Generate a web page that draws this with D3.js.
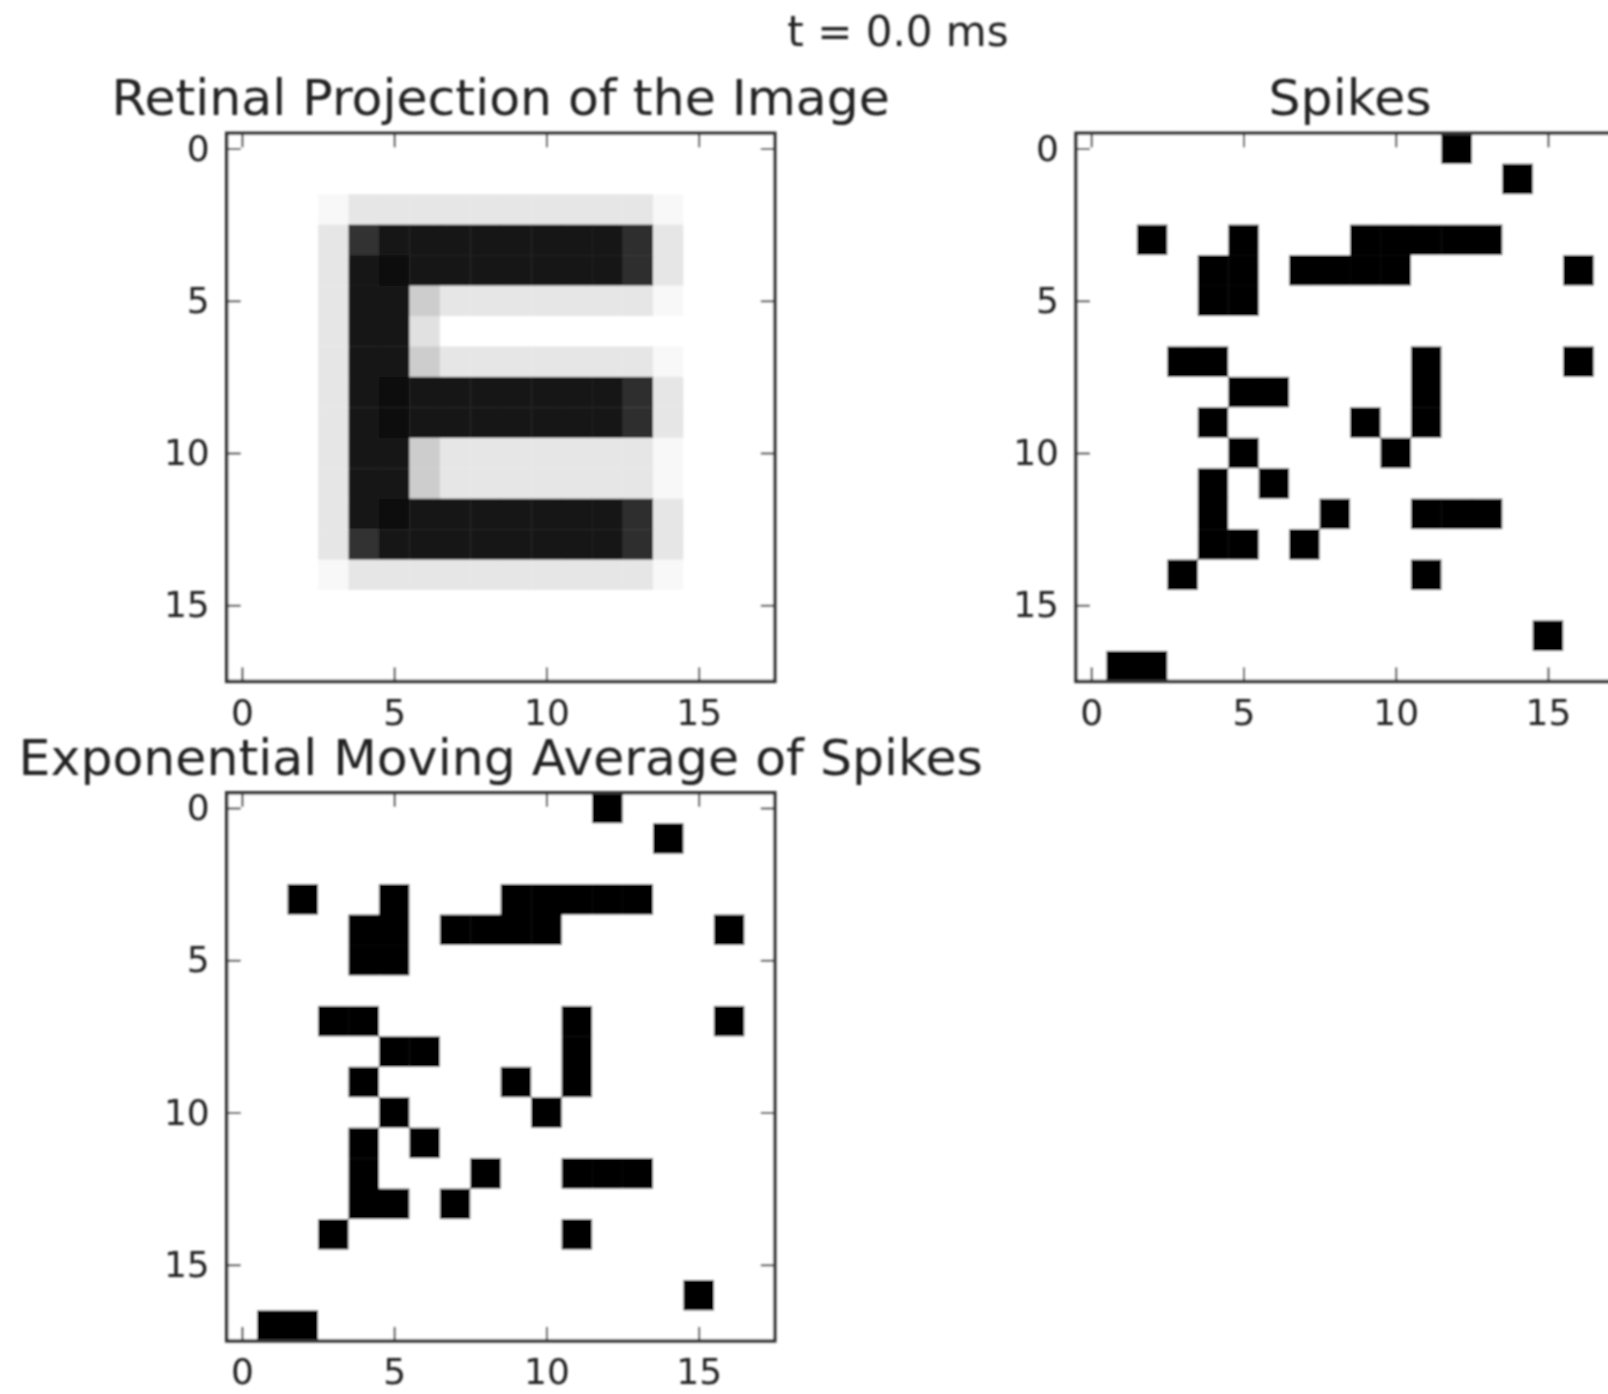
<!DOCTYPE html>
<html>
<head>
<meta charset="utf-8">
<script src="https://cdn.jsdelivr.net/npm/d3@7"></script>
<style>
  body { margin: 0; background: #fff; }
  svg { display: block; }
</style>
</head>
<body>
<div id="chart"></div>
<script>
// figure size
const W = 1608, H = 1394;
const n = 18;
const tickValues = [0, 5, 10, 15];
const suptitle = "t = 0.0 ms";
const titles = ["Retinal Projection of the Image", "Spikes", "Exponential Moving Average of Spikes"];

// darkness of each retinal pixel (0 = white, 1 = black), row by row
const retina = [
  [0,0,0,0,0,0,0,0,0,0,0,0,0,0,0,0,0,0],
  [0,0,0,0,0,0,0,0,0,0,0,0,0,0,0,0,0,0],
  [0,0,0,.03,.1,.1,.1,.1,.1,.1,.1,.1,.1,.1,.03,0,0,0],
  [0,0,0,.1,.82,.92,.92,.92,.92,.92,.92,.92,.92,.84,.1,0,0,0],
  [0,0,0,.1,.92,.97,.92,.92,.92,.92,.92,.92,.92,.84,.1,0,0,0],
  [0,0,0,.1,.92,.92,.2,.1,.1,.1,.1,.1,.1,.1,.03,0,0,0],
  [0,0,0,.1,.92,.92,.12,0,0,0,0,0,0,0,0,0,0,0],
  [0,0,0,.1,.92,.92,.2,.1,.1,.1,.1,.1,.1,.1,.03,0,0,0],
  [0,0,0,.1,.92,.97,.92,.92,.92,.92,.92,.92,.92,.84,.1,0,0,0],
  [0,0,0,.1,.92,.97,.92,.92,.92,.92,.92,.92,.92,.84,.1,0,0,0],
  [0,0,0,.1,.92,.92,.2,.1,.1,.1,.1,.1,.1,.1,.03,0,0,0],
  [0,0,0,.1,.92,.92,.2,.1,.1,.1,.1,.1,.1,.1,.03,0,0,0],
  [0,0,0,.1,.92,.97,.92,.92,.92,.92,.92,.92,.92,.84,.1,0,0,0],
  [0,0,0,.1,.82,.92,.92,.92,.92,.92,.92,.92,.92,.84,.1,0,0,0],
  [0,0,0,.03,.1,.1,.1,.1,.1,.1,.1,.1,.1,.1,.03,0,0,0],
  [0,0,0,0,0,0,0,0,0,0,0,0,0,0,0,0,0,0],
  [0,0,0,0,0,0,0,0,0,0,0,0,0,0,0,0,0,0],
  [0,0,0,0,0,0,0,0,0,0,0,0,0,0,0,0,0,0]
];

// columns that spiked, per row
const spikeCols = [
  [12], [14], [], [2, 5, 9, 10, 11, 12, 13], [4, 5, 7, 8, 9, 10, 16], [4, 5],
  [], [3, 4, 11, 16], [5, 6, 11], [4, 9, 11], [5, 10], [4, 6],
  [4, 8, 11, 12, 13], [4, 5, 7], [3, 11], [], [15], [1, 2]
];
// at t = 0 the moving average is the same picture
const emaCols = [
  [12], [14], [], [2, 5, 9, 10, 11, 12, 13], [4, 5, 7, 8, 9, 10, 16], [4, 5],
  [], [3, 4, 11, 16], [5, 6, 11], [4, 9, 11], [5, 10], [4, 6],
  [4, 8, 11, 12, 13], [4, 5, 7], [3, 11], [], [15], [1, 2]
];

const toGrid = rows => rows.map(cs => d3.range(n).map(c => cs.includes(c) ? 1 : 0));

const cell = 30.45, side = cell * n;
const font = "DejaVu Sans";
const ink = "#222", spine = "#333";

const shade = d3.scaleLinear().domain([0, 1]).range(["#ffffff", "#050505"]);

const svg = d3.select("#chart").append("svg")
  .attr("width", W).attr("height", H);

svg.append("defs").append("filter").attr("id", "soft")
  .attr("x", 0).attr("y", 0).attr("width", 1).attr("height", 1)
  .append("feGaussianBlur").attr("stdDeviation", 0.9);

svg.append("rect").attr("width", W).attr("height", H).attr("fill", "#fff");

const root = svg.append("g").attr("filter", "url(#soft)");

root.append("text")
  .attr("x", 898).attr("y", 46)
  .attr("text-anchor", "middle")
  .attr("font-family", font).attr("font-size", 42).attr("fill", ink)
  .text(suptitle);

const panels = [
  { title: titles[0], x: 226.7, y: 133.3, grid: retina },
  { title: titles[1], x: 1076, y: 133.3, grid: toGrid(spikeCols) },
  { title: titles[2], x: 226.7, y: 792.8, grid: toGrid(emaCols) }
];

panels.forEach(drawPanel);

function styleAxis(sel) {
  sel.select(".domain").remove();
  sel.selectAll("line").attr("stroke", spine).attr("stroke-width", 2);
  sel.selectAll("text")
    .attr("font-family", font).attr("font-size", 36).attr("fill", ink);
}

function drawPanel(p) {
  const g = root.append("g").attr("transform", `translate(${p.x},${p.y})`);

  const x = d3.scaleLinear().domain([-0.5, n - 0.5]).range([0, side]);
  const y = d3.scaleLinear().domain([-0.5, n - 0.5]).range([0, side]);

  const cells = p.grid.flatMap((row, r) => row.map((v, c) => ({ r, c, v })));

  g.selectAll(".cell")
    .data(cells)
    .enter()
    .append("rect")
    .attr("class", "cell")
    .attr("x", d => x(d.c - 0.5))
    .attr("y", d => y(d.r - 0.5))
    .attr("width", x(0.5) - x(-0.5) + 0.4)
    .attr("height", y(0.5) - y(-0.5) + 0.4)
    .attr("fill", d => shade(d.v));

  // ticks point inwards on all four sides
  g.append("g")
    .attr("transform", `translate(0,${side})`)
    .call(d3.axisBottom(x).tickValues(tickValues).tickSize(-14).tickPadding(18))
    .call(styleAxis);

  g.append("g")
    .call(d3.axisLeft(y).tickValues(tickValues).tickSize(-14).tickPadding(17))
    .call(styleAxis);

  g.append("g")
    .call(d3.axisTop(x).tickValues(tickValues).tickSize(-14).tickFormat(""))
    .call(styleAxis);

  g.append("g")
    .attr("transform", `translate(${side},0)`)
    .call(d3.axisRight(y).tickValues(tickValues).tickSize(-14).tickFormat(""))
    .call(styleAxis);

  g.append("rect")
    .attr("width", side).attr("height", side)
    .attr("fill", "none")
    .attr("stroke", spine).attr("stroke-width", 3.5);

  g.append("text")
    .attr("x", side / 2).attr("y", -18)
    .attr("text-anchor", "middle")
    .attr("font-family", font).attr("font-size", 50.5).attr("fill", ink)
    .text(p.title);
}
</script>
</body>
</html>
